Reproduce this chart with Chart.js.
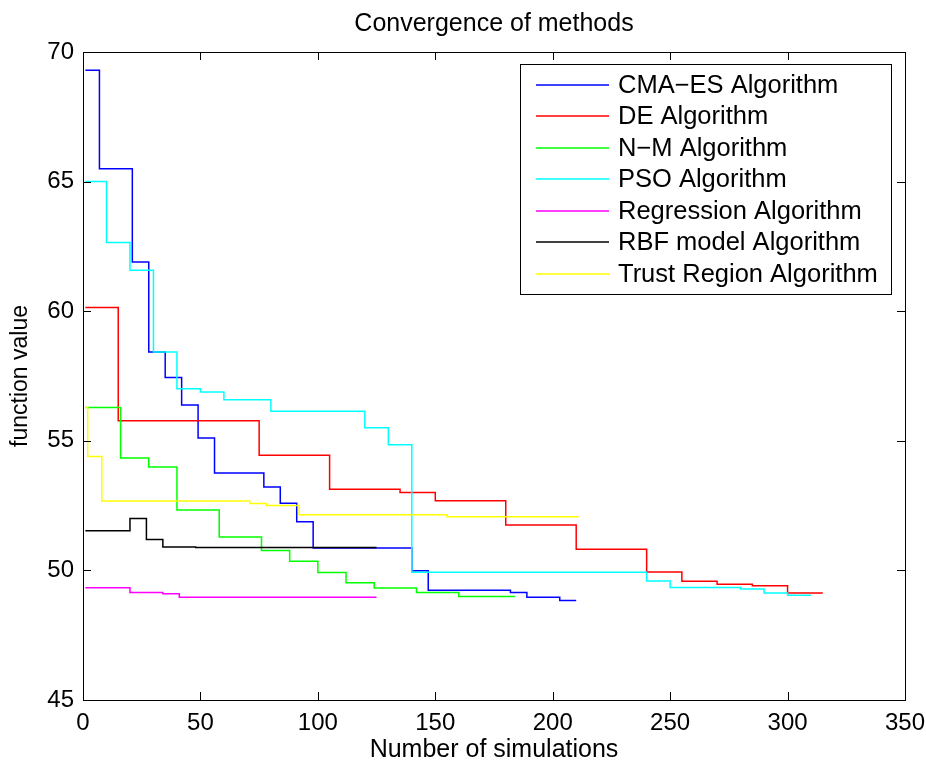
<!DOCTYPE html>
<html>
<head>
<meta charset="utf-8">
<title>Convergence of methods</title>
<script src="https://cdn.jsdelivr.net/npm/chart.js@4.4.1/dist/chart.umd.min.js"></script>
<style>
    html, body { margin: 0; padding: 0; background: #fff; }
</style>
</head>
<body>
<canvas id="convChart" width="926" height="764"></canvas>
<script>
// step change points (x = simulation count, y = best value so far)
const cmaX = [1, 7, 21, 28, 35, 42, 49, 56, 77, 84, 91, 98, 140, 147, 182, 189, 203, 210];
const cmaY = [69.3, 65.5, 61.9, 58.43, 57.44, 56.38, 55.11, 53.76, 53.22, 52.59, 51.88, 50.86, 49.99, 49.23, 49.15, 48.96, 48.84, 48.84];

const deX = [1, 15, 75, 105, 135, 150, 180, 210, 240, 255, 270, 285, 300, 315];
const deY = [60.14, 55.77, 54.44, 53.13, 53.01, 52.69, 51.75, 50.82, 49.94, 49.58, 49.47, 49.41, 49.13, 49.13];

const nmX = [1, 16, 28, 40, 58, 76, 88, 100, 112, 124, 142, 160, 184];
const nmY = [56.28, 54.34, 53.99, 52.33, 51.29, 50.77, 50.35, 49.92, 49.52, 49.32, 49.15, 48.99, 48.99];

const psoX = [1, 10, 20, 30, 40, 50, 60, 80, 120, 130, 140, 240, 250, 280, 290, 300, 310];
const psoY = [65.0, 62.65, 61.58, 58.43, 57.01, 56.88, 56.58, 56.14, 55.5, 54.85, 49.93, 49.59, 49.34, 49.28, 49.13, 49.04, 49.04];

const regX = [1, 20, 34, 41, 125];
const regY = [49.33, 49.15, 49.1, 48.96, 48.96];

const rbfX = [1, 20, 27, 34, 48, 125];
const rbfY = [51.53, 52.0, 51.19, 50.9, 50.88, 50.88];

const trX = [1, 2, 8, 71, 78, 92, 155, 211];
const trY = [56.28, 54.39, 52.68, 52.58, 52.5, 52.15, 52.07, 52.07];

const seriesNames = [
    'CMA\u2212ES Algorithm',
    'DE Algorithm',
    'N\u2212M Algorithm',
    'PSO Algorithm',
    'Regression Algorithm',
    'RBF model Algorithm',
    'Trust Region Algorithm'
];
const seriesColors = ['#0000ff', '#ff0000', '#00ff00', '#00ffff', '#ff00ff', '#000000', '#ffff00'];
const seriesX = [cmaX, deX, nmX, psoX, regX, rbfX, trX];
const seriesY = [cmaY, deY, nmY, psoY, regY, rbfY, trY];

const xTicks = [0, 50, 100, 150, 200, 250, 300, 350];
const yTicks = [45, 50, 55, 60, 65, 70];

const FONT = "'Liberation Sans', Arial, Helvetica, sans-serif";
Chart.defaults.font.family = FONT;
Chart.defaults.color = '#000';

function toPoints(xs, ys) {
    return xs.map((x, i) => ({ x: x, y: ys[i] }));
}

// box around the axes with inward ticks on all four sides (matlab style)
const frameTicks = {
    id: 'frameTicks',
    afterDraw(chart) {
        const ctx = chart.ctx;
        const a = chart.chartArea;
        const xs = chart.scales.x;
        const ys = chart.scales.y;
        const len = 8;
        ctx.save();
        ctx.strokeStyle = '#000';
        ctx.lineWidth = 1;
        ctx.strokeRect(a.left + 0.5, a.top + 0.5, a.right - a.left, a.bottom - a.top);
        ctx.beginPath();
        xTicks.forEach(v => {
            const px = Math.round(xs.getPixelForValue(v)) + 0.5;
            ctx.moveTo(px, a.bottom);
            ctx.lineTo(px, a.bottom - len);
            ctx.moveTo(px, a.top);
            ctx.lineTo(px, a.top + len);
        });
        yTicks.forEach(v => {
            const py = Math.round(ys.getPixelForValue(v)) + 0.5;
            ctx.moveTo(a.left, py);
            ctx.lineTo(a.left + len, py);
            ctx.moveTo(a.right, py);
            ctx.lineTo(a.right - len, py);
        });
        ctx.stroke();
        ctx.restore();
    }
};

// legend box in the upper right corner of the axes
const boxLegend = {
    id: 'boxLegend',
    afterDraw(chart) {
        const ctx = chart.ctx;
        const left = 520.5, top = 64.5, right = 891.5, bottom = 294.5;
        const rowStart = 85, rowStep = 31.45;
        ctx.save();
        ctx.fillStyle = '#fff';
        ctx.fillRect(left, top, right - left, bottom - top);
        ctx.strokeStyle = '#000';
        ctx.lineWidth = 1;
        ctx.strokeRect(left, top, right - left, bottom - top);
        ctx.font = '25.5px ' + FONT;
        ctx.textBaseline = 'middle';
        ctx.textAlign = 'left';
        chart.data.datasets.forEach((ds, i) => {
            const y = Math.round(rowStart + i * rowStep);
            ctx.strokeStyle = ds.borderColor;
            ctx.lineWidth = 1.5;
            ctx.beginPath();
            ctx.moveTo(536, y);
            ctx.lineTo(609, y);
            ctx.stroke();
            ctx.fillStyle = '#000';
            ctx.fillText(ds.label, 618, y + 1);
        });
        ctx.restore();
    }
};

const datasets = seriesNames.map((name, i) => ({
    label: name,
    data: toPoints(seriesX[i], seriesY[i]),
    borderColor: seriesColors[i],
    backgroundColor: seriesColors[i],
    borderWidth: 1.5,
    pointRadius: 0,
    stepped: 'before',
    fill: false,
    order: seriesNames.length - i
}));

new Chart(document.getElementById('convChart').getContext('2d'), {
    type: 'line',
    data: { datasets: datasets },
    options: {
        responsive: false,
        animation: false,
        layout: { padding: { left: 0, right: 21, top: 0, bottom: 0 } },
        scales: {
            x: {
                type: 'linear',
                min: 0,
                max: 350,
                afterFit(scale) {
                    scale.height = 64;
                    scale.paddingLeft = 0;
                    scale.paddingRight = 0;
                },
                afterBuildTicks(scale) { scale.ticks = xTicks.map(v => ({ value: v })); },
                ticks: { font: { size: 24 }, color: '#000', padding: 9, maxRotation: 0 },
                grid: { drawOnChartArea: false, drawTicks: false },
                border: { color: '#000' },
                title: {
                    display: true,
                    text: 'Number of simulations',
                    font: { size: 25, lineHeight: 1.1 },
                    color: '#000',
                    padding: { top: 0, bottom: 0 }
                }
            },
            y: {
                type: 'linear',
                min: 45,
                max: 70,
                afterFit(scale) {
                    scale.width = 83;
                    scale.paddingTop = 0;
                    scale.paddingBottom = 0;
                },
                afterBuildTicks(scale) { scale.ticks = yTicks.map(v => ({ value: v })); },
                ticks: { font: { size: 24 }, color: '#000', padding: 9 },
                grid: { drawOnChartArea: false, drawTicks: false },
                border: { color: '#000' },
                title: {
                    display: true,
                    text: 'function value',
                    font: { size: 23 },
                    color: '#000',
                    padding: { top: 7, bottom: 0 }
                }
            }
        },
        plugins: {
            legend: { display: false },
            tooltip: { enabled: false },
            title: {
                display: true,
                fullSize: false,
                text: 'Convergence of methods',
                font: { size: 25, weight: 'normal' },
                color: '#000',
                padding: { top: 9, bottom: 13 }
            }
        }
    },
    plugins: [frameTicks, boxLegend]
});
</script>
</body>
</html>
